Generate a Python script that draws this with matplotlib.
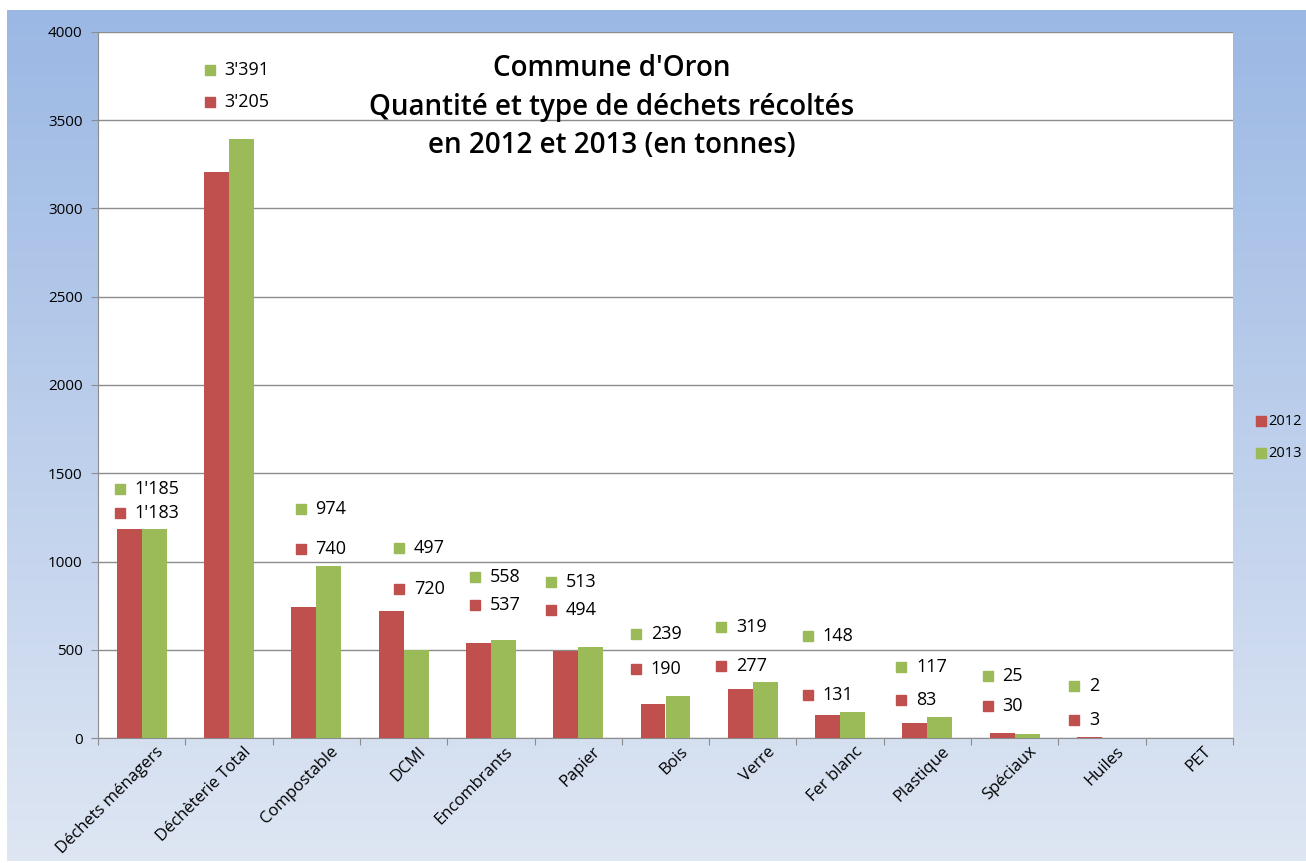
import numpy as np
import matplotlib
matplotlib.use("Agg")
import matplotlib.pyplot as plt
from matplotlib.patches import Rectangle

categories = ["Déchets ménagers", "Déchèterie Total", "Compostable", "DCMI",
              "Encombrants", "Papier", "Bois", "Verre", "Fer blanc",
              "Plastique", "Spéciaux", "Huiles", "PET"]
values_2012 = [1183, 3205, 740, 720, 537, 494, 190, 277, 131, 83, 30, 3, 0]
values_2013 = [1185, 3391, 974, 497, 558, 513, 239, 319, 148, 117, 25, 2, 0]
series_names = ["2012", "2013"]
yticks = [0, 500, 1000, 1500, 2000, 2500, 3000, 3500, 4000]
title = "Commune d'Oron\nQuantité et type de déchets récoltés\nen 2012 et 2013 (en tonnes)"

# layout of the (manually placed) data labels, in data units
label_y_2012 = [1275, 3604, 1071, 844, 754, 725, 391, 408, 244, 215, 181, 102, None]
label_y_2013 = [1411, 3785, 1297, 1076, 912, 884, 589, 629, 578, 402, 351, 295, None]
label_dx = [-0.25, -0.22, -0.18, -0.05, -0.18, -0.31, -0.34, -0.36, -0.37, -0.30, -0.31, -0.32, 0]

RED = "#C0504D"
GREEN = "#9BBB59"
W, H = 1306, 863

fig = plt.figure(figsize=(W / 100, H / 100), dpi=100)
fig.patch.set_facecolor("white")

# gradient background
bg = fig.add_axes([7 / W, 1 - 861 / H, (W - 7) / W, (861 - 10) / H])
top = np.array([155, 184, 228]) / 255
bot = np.array([222, 230, 243]) / 255
t = np.linspace(0, 1, 256)[:, None]
grad = top[None, :] * (1 - t) + bot[None, :] * t
bg.imshow(grad[:, None, :].repeat(2, axis=1), aspect="auto", extent=[0, 1, 0, 1])
bg.set_axis_off()
bg.set_zorder(0)

x0, x1, y0, y1 = 98, 1233, 32, 738
ax = fig.add_axes([x0 / W, 1 - y1 / H, (x1 - x0) / W, (y1 - y0) / H])
ax.set_zorder(1)
ax.set_facecolor("white")

n = len(categories)
x = np.arange(n)
w = 1 / 3.5
ax.bar(x - w / 2, values_2012, w, color=RED, zorder=3)
ax.bar(x + w / 2, values_2013, w, color=GREEN, zorder=3)

ax.set_xlim(-0.5, n - 0.5)
ax.set_ylim(0, 4000)
ax.set_yticks(yticks)
ax.set_yticklabels([str(v) for v in yticks], fontsize=11, family="Open Sans")
ax.yaxis.grid(True, color="#8c8c8c", linewidth=1)
ax.set_axisbelow(True)

ax.set_xticks(np.arange(-0.5, n, 1.0))
ax.set_xticklabels([])
ax.set_xticks(x, minor=True)
ax.set_xticklabels(categories, minor=True, rotation=45, ha="right",
                   rotation_mode="anchor", fontsize=12, family="Open Sans")
ax.tick_params(axis="x", which="minor", length=0, pad=4)
ax.tick_params(axis="x", which="major", length=5, color="#8c8c8c", direction="out")
ax.tick_params(axis="y", length=5, color="#8c8c8c", direction="out", pad=6)
for lab in ax.get_xticklabels(minor=True):
    lab.set_transform(lab.get_transform() + matplotlib.transforms.ScaledTranslation(14 / 100, 0, fig.dpi_scale_trans))

for s in ["top", "right"]:
    ax.spines[s].set_visible(False)
for s in ["left", "bottom"]:
    ax.spines[s].set_color("#8c8c8c")

def fmt(v):
    return f"{v:,}".replace(",", "'")

for i in range(n):
    for vals, ly, col in ((values_2012, label_y_2012, RED), (values_2013, label_y_2013, GREEN)):
        if ly[i] is None:
            continue
        xm = i + label_dx[i]
        ax.plot([xm], [ly[i]], marker="s", markersize=7.5, color=col, linestyle="none", zorder=5)
        ax.text(xm + 0.17, ly[i], fmt(vals[i]), fontsize=13, family="Open Sans",
                va="center", ha="left", zorder=5)

fig.text(612 / W, 1 - 107 / H, title, ha="center", va="center", fontsize=20,
         fontweight="semibold", family="Open Sans", linespacing=1.45, zorder=6)

# legend
for name, col, ly in ((series_names[0], RED, 421), (series_names[1], GREEN, 453)):
    fig.patches.append(Rectangle(((1256) / W, 1 - (ly + 5) / H), 10 / W, 10 / H,
                                 transform=fig.transFigure, color=col, zorder=6))
    fig.text(1268 / W, 1 - ly / H, name, fontsize=10.5, family="Open Sans",
             va="center", ha="left", zorder=6)

fig.savefig("out.png", dpi=100)
